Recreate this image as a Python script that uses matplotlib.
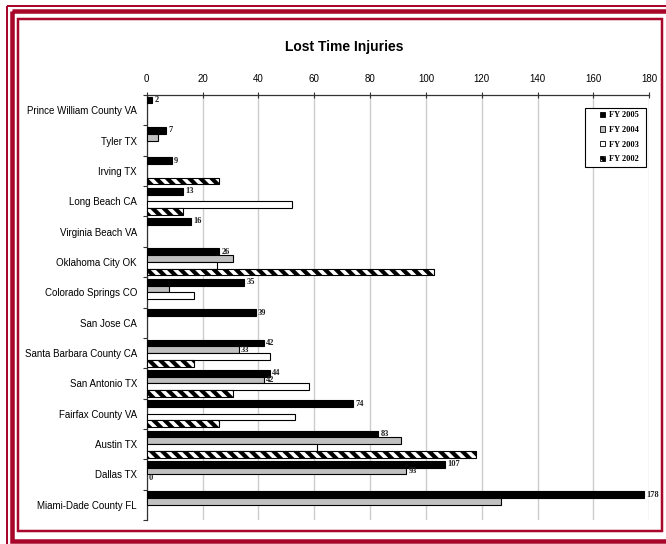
import numpy as np
import matplotlib
matplotlib.use("Agg")
import matplotlib.pyplot as plt
from matplotlib.patches import Rectangle, Patch
from matplotlib.legend_handler import HandlerPatch

# ---- data -------------------------------------------------------------
cities = [
    "Prince William County VA", "Tyler TX", "Irving TX", "Long Beach CA",
    "Virginia Beach VA", "Oklahoma City OK", "Colorado Springs CO",
    "San Jose CA", "Santa Barbara County CA", "San Antonio TX",
    "Fairfax County VA", "Austin TX", "Dallas TX", "Miami-Dade County FL",
]
series_names = ["FY 2005", "FY 2004", "FY 2003", "FY 2002"]
nan = np.nan
fy2005 = [2, 7, 9, 13, 16, 26, 35, 39, 42, 44, 74, 83, 107, 178]
fy2004 = [nan, 4, nan, nan, nan, 31, 8, nan, 33, 42, nan, 91, 93, 127]
fy2003 = [nan, nan, nan, 52, nan, 25, 17, nan, 44, 58, 53, 61, 0, nan]
fy2002 = [nan, nan, 26, 13, nan, 103, nan, nan, 17, 31, 26, 118, nan, nan]
# which bars carry a value label (row indices per series)
labelled = {
    "FY 2005": list(range(len(cities))),
    "FY 2004": [8, 9, 12],
    "FY 2003": [12],
    "FY 2002": [],
}
x_ticks = [0, 20, 40, 60, 80, 100, 120, 140, 160, 180]

# ---- styling ----------------------------------------------------------
W, H = 666, 544
DPI = 100
SANS = "Liberation Sans"
SERIF = "Liberation Serif"
RED = "#a8072b"
plt.rcParams["hatch.linewidth"] = 3.0
plt.rcParams["hatch.color"] = "black"

styles = {
    "FY 2005": dict(facecolor="black", edgecolor="black", hatch=None),
    "FY 2004": dict(facecolor="#c0c0c0", edgecolor="black", hatch=None),
    "FY 2003": dict(facecolor="white", edgecolor="black", hatch=None),
    "FY 2002": dict(facecolor="white", edgecolor="black", hatch="\\\\\\"),
}

fig = plt.figure(figsize=(W / DPI, H / DPI), dpi=DPI)
fig.patch.set_facecolor("white")

# decorative red frame, drawn in pixel coordinates
bg = fig.add_axes([0, 0, 1, 1], zorder=-5)
bg.set_xlim(0, W)
bg.set_ylim(H, 0)
bg.axis("off")
px = 0.72  # points per pixel at 100 dpi
for (x0, y0, x1, y1, lw) in [(7, 6, 690, 570, 2.0),
                             (12, 11, 672, 541, 4.5),
                             (18, 18.5, 662, 530.5, 2.5)]:
    bg.add_patch(Rectangle((x0, y0), x1 - x0, y1 - y0, fill=False,
                           edgecolor=RED, linewidth=lw * px))

# plot area
left, right, top, bottom = 146.7, 649.3, 95, 520
ax = fig.add_axes([left / W, 1 - bottom / H, (right - left) / W, (bottom - top) / H])

data = [fy2005, fy2004, fy2003, fy2002]
n = len(cities)
ypos = np.arange(n)
h = 0.222
offsets = [-1.5 * h, -0.5 * h, 0.5 * h, 1.5 * h]

for name, vals, off in zip(series_names, data, offsets):
    st = styles[name]
    v = np.array(vals, dtype=float)
    ok = ~np.isnan(v) & (v > 0)
    ax.barh(ypos[ok] + off, v[ok], height=h, facecolor=st["facecolor"],
            edgecolor=st["edgecolor"], hatch=st["hatch"], linewidth=0.8,
            zorder=3)
    for i in labelled[name]:
        if np.isnan(v[i]):
            continue
        ax.text(v[i] + 0.8, ypos[i] + off, f"{int(v[i])}", fontsize=6,
                fontweight="bold", family=SERIF, ha="left", va="center",
                color="#222222", zorder=5, clip_on=False)

ax.set_xlim(0, 180)
ax.set_ylim(n - 0.5, -0.5)

ax.xaxis.tick_top()
ax.set_xticks(x_ticks)
ax.set_xticklabels([str(t) for t in x_ticks], fontsize=7, family=SANS)
ax.tick_params(axis="x", direction="inout", length=4.5, width=0.8,
               color="#333333", pad=6)

ax.set_yticks(ypos)
ax.set_yticklabels(cities, fontsize=7, family=SANS)
ax.set_yticks(np.arange(n + 1) - 0.5, minor=True)
ax.tick_params(axis="y", which="major", length=0, pad=7)
ax.tick_params(axis="y", which="minor", direction="out", length=3,
               width=0.8, color="#333333")

ax.grid(axis="x", color="#cccccc", linewidth=1.0, zorder=0)
ax.set_axisbelow(True)
for s in ("right", "bottom"):
    ax.spines[s].set_visible(False)
for s in ("top", "left"):
    ax.spines[s].set_color("#333333")
    ax.spines[s].set_linewidth(0.9)


# legend: small square key sitting at the right end of the handle slot
def square_key(legend, orig_handle, xdescent, ydescent, width, height, fontsize):
    side = height
    return Rectangle((width - side - xdescent, -ydescent), side, side)


handles = [Patch(facecolor=styles[s]["facecolor"], edgecolor="black",
                 hatch=styles[s]["hatch"], linewidth=0.6) for s in series_names]
leg = ax.legend(handles, [s + "  " for s in series_names], loc="upper right",
                bbox_to_anchor=(646 / W, 1 - 108 / H),
                bbox_transform=fig.transFigure,
                handler_map={Patch: HandlerPatch(patch_func=square_key)},
                prop=dict(family=SERIF, weight="bold", size=6),
                handlelength=2.0, handleheight=0.62, handletextpad=0.4,
                labelspacing=0.8, borderpad=0.4, borderaxespad=0,
                fancybox=False, framealpha=1, edgecolor="black")
leg.get_frame().set_linewidth(0.8)

fig.text(344 / W, 1 - 47 / H, "Lost Time Injuries", ha="center", va="center",
         fontsize=10, fontweight="bold", family=SANS)

fig.savefig("out.png", dpi=DPI)
